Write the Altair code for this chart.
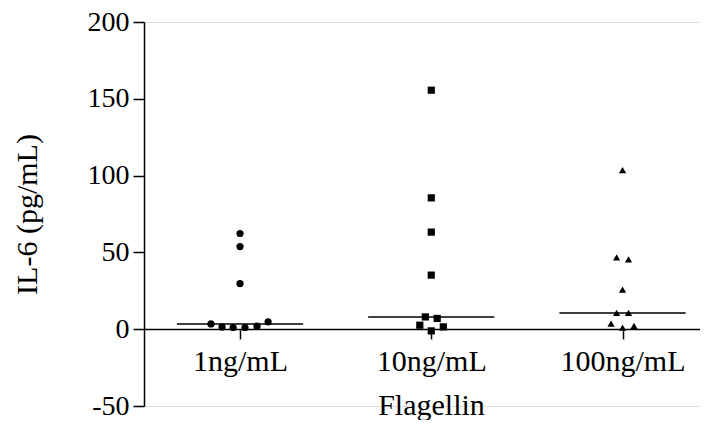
import altair as alt
import pandas as pd

groups = ["1ng/mL", "10ng/mL", "100ng/mL"]
shapes = ["circle", "square", "triangle-up"]

values_1 = [62.3, 53.8, 29.7, 3.4, 1.5, 1.1, 1.1, 2.0, 4.8]
values_2 = [155.6, 85.5, 63.2, 35.2, 8.0, 7.0, 2.6, 1.5, -1.1]
values_3 = [103.5, 46.7, 45.4, 25.8, 10.6, 10.6, 3.7, 2.2, 1.1]

# horizontal scatter spread within each column, in category units
spread_1 = [0, 0, 0, -0.152, -0.094, -0.036, 0.026, 0.089, 0.147]
spread_2 = [0, 0, 0, 0, -0.031, 0.031, -0.06, 0.063, 0]
spread_3 = [0, -0.031, 0.031, 0, -0.031, 0.031, -0.06, 0.06, 0]

y_ticks = [-50, 0, 50, 100, 150, 200]

rows = []
for gi, (vals, spr) in enumerate(zip([values_1, values_2, values_3],
                                     [spread_1, spread_2, spread_3])):
    for v, s in zip(vals, spr):
        rows.append({"group": groups[gi], "idx": gi + 1, "pos": gi + 1 + s, "value": v})
df = pd.DataFrame(rows)

FONT = "Liberation Serif, Times New Roman, Times, serif"
label_expr = " : ".join(
    [f"datum.value == {i + 1} ? '{g}'" for i, g in enumerate(groups[:-1])] + [f"'{groups[-1]}'"]
)

W, H = 556, 384
x_scale = alt.Scale(domain=[0.498, 3.405], nice=False, zero=False)
y_scale = alt.Scale(domain=[-50, 200], nice=False, zero=False)

points = alt.Chart(df).mark_point(filled=True, opacity=1, color="black", size=52).encode(
    x=alt.X("pos:Q", scale=x_scale,
            axis=alt.Axis(values=[1, 2, 3], labelExpr=label_expr, offset=-77,
                          tickSize=10, tickWidth=1.5, domainWidth=1.5,
                          domainColor="black", tickColor="black",
                          labelFont=FONT, labelFontSize=30, labelColor="black",
                          labelBaseline="alphabetic", labelPadding=31, grid=False,
                          title="Flagellin", titleFont=FONT, titleFontSize=30,
                          titleFontWeight="normal", titleColor="black",
                          titleBaseline="alphabetic", titleX=287, titleY=85)),
    y=alt.Y("value:Q", scale=y_scale,
            axis=alt.Axis(values=y_ticks, labelExpr="'' + datum.value",
                          tickSize=11, tickWidth=1.5, domainWidth=1.5,
                          domainColor="black", tickColor="black",
                          labelFont=FONT, labelFontSize=28, labelColor="black",
                          labelPadding=4, grid=False,
                          title="IL-6 (pg/mL)", titleFont=FONT, titleFontSize=30,
                          titleFontWeight="normal", titleColor="black",
                          titleAngle=-90, titleBaseline="alphabetic", titleAlign="center",
                          titleX=-108, titleY=192)),
    shape=alt.Shape("group:N", scale=alt.Scale(domain=groups, range=shapes), legend=None),
)

medians = alt.Chart(df).transform_aggregate(
    med="median(value)", groupby=["idx"]
).transform_calculate(
    x1="datum.idx - 0.33", x2="datum.idx + 0.33"
).mark_rule(color="black", strokeWidth=1.5).encode(
    x=alt.X("x1:Q", scale=x_scale),
    x2="x2:Q",
    y=alt.Y("med:Q", scale=y_scale),
)

chart = alt.layer(medians, points).properties(
    width=W, height=H,
    autosize=alt.AutoSizeParams(type="none"),
    padding={"left": 136, "top": 14, "right": 0, "bottom": 14},
).configure_view(stroke=None).configure(background="white")

chart.save("out.html", embed_options={"renderer": "svg", "actions": False})
